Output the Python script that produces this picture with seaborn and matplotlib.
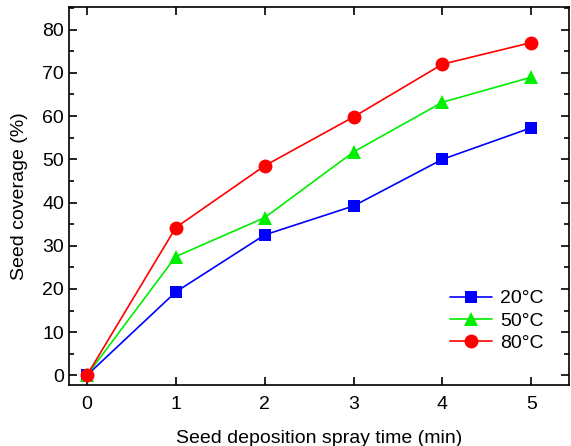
import matplotlib
matplotlib.use("Agg")
import matplotlib.pyplot as plt
import seaborn as sns
import pandas as pd
from matplotlib.ticker import MultipleLocator

time = [0, 1, 2, 3, 4, 5]
cov_20 = [0, 19.3, 32.5, 39.2, 50.0, 57.3]
cov_50 = [0, 27.5, 36.5, 51.7, 63.2, 69.0]
cov_80 = [0, 34.2, 48.5, 59.8, 72.0, 77.0]
labels = ["20°C", "50°C", "80°C"]

sns.set_style("ticks", {"axes.edgecolor": "black", "xtick.color": "black",
                        "ytick.color": "black", "text.color": "black",
                        "axes.labelcolor": "black"})
plt.rcParams['font.family'] = ['Liberation Sans', 'DejaVu Sans']

df = pd.concat([
    pd.DataFrame({"t": time, "cov": v, "T": l})
    for v, l in zip([cov_20, cov_50, cov_80], labels)
])

fig, ax = plt.subplots(figsize=(5.71, 4.46), dpi=100)
fig.subplots_adjust(left=0.121, right=0.996, top=0.984, bottom=0.137)

colors = {"20°C": "#0000ff", "50°C": "#00ee00", "80°C": "#ff0000"}
markers = {"20°C": "s", "50°C": "^", "80°C": "o"}
sizes = {"20°C": 8, "50°C": 10, "80°C": 10}
for l in labels:
    sub = df[df["T"] == l]
    sns.lineplot(data=sub, x="t", y="cov", ax=ax, color=colors[l], marker=markers[l],
                 markersize=sizes[l], markeredgewidth=0, linewidth=1.2, label=l)

ax.set_xlim(-0.2, 5.42)
ax.set_ylim(-2.2, 85.2)
ax.xaxis.set_major_locator(MultipleLocator(1))
ax.yaxis.set_major_locator(MultipleLocator(10))
ax.yaxis.set_minor_locator(MultipleLocator(5))
ax.tick_params(which='both', direction='in', top=True, right=True, labelsize=14)
ax.tick_params(which='major', length=6, width=1.2)
ax.tick_params(which='minor', length=3.5, width=1.2)
ax.tick_params(axis='x', which='minor', top=False, bottom=False)
ax.tick_params(axis='x', pad=8)
for s in ax.spines.values():
    s.set_linewidth(1.2)
ax.set_xlabel("Seed deposition spray time (min)", fontsize=14, labelpad=12)
ax.set_ylabel("Seed coverage (%)", fontsize=14, labelpad=10)
leg = ax.legend(loc='lower right', bbox_to_anchor=(0.985, 0.04), frameon=False, fontsize=14,
                handlelength=2.2, handletextpad=0.4, labelspacing=0.25)
fig.savefig("out.png", dpi=100)
